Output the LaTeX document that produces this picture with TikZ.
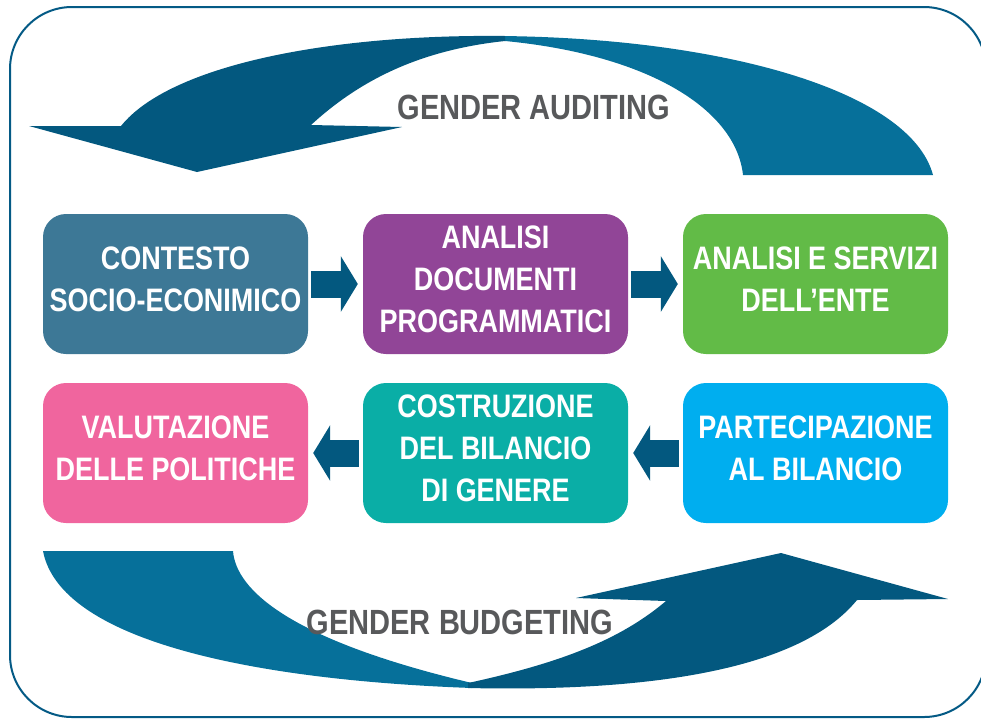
\documentclass[tikz,border=0pt]{standalone}
\usepackage{fontspec}
\usetikzlibrary{arrows.meta}
\newfontfamily\boxfont{Liberation Sans}[FakeStretch=0.83]

\definecolor{darkarrow}{HTML}{03587F}
\definecolor{lightarrow}{HTML}{06709A}
\definecolor{framecol}{HTML}{045A85}
\definecolor{contestocol}{HTML}{3D7896}
\definecolor{analisicol}{HTML}{914597}
\definecolor{servizicol}{HTML}{62BB47}
\definecolor{valutacol}{HTML}{F0659E}
\definecolor{costrucol}{HTML}{0AAEA6}
\definecolor{parteccol}{HTML}{00AEEF}
\definecolor{labelgray}{HTML}{58595B}

\begin{document}
\begin{tikzpicture}[x=1pt, y=-1pt,
  box/.style={rounded corners=23pt, minimum width=265pt, minimum height=140pt,
    inner sep=0pt, text=white, align=center, text depth=9pt,
    font=\boxfont\bfseries\fontsize{32.5}{42}\selectfont},
  flow/.style={draw=darkarrow, line width=27pt, -{Triangle[length=17pt, width=55pt]}},
  cyclelabel/.style={text=labelgray, font=\boxfont\bfseries\fontsize{35}{40}\selectfont}]
  \useasboundingbox (0,0) rectangle (981,718);

  % frame
  \draw[framecol, line width=2pt, rounded corners=62pt] (10,7) rectangle (986,717);

  % gender auditing arrow (tail right, head left)
  \fill[lightarrow] (500,36) .. controls (720,38) and (910,90) .. (933,175)
    -- (743,175) .. controls (736,110) and (650,55) .. (505,41) -- cycle;
  \fill[darkarrow] (505,36) .. controls (330,34) and (170,65) .. (121,126)
    -- (29,126) -- (197,172) -- (402,127) -- (311,125)
    .. controls (360,80) and (420,50) .. (505,41) -- cycle;

  % gender budgeting arrow (tail left, head right)
  \fill[lightarrow] (43,551) -- (233,551)
    .. controls (236,590) and (290,640) .. (472,683)
    -- (472,688) .. controls (250,680) and (60,640) .. (43,551) -- cycle;
  \fill[darkarrow] (468,683) .. controls (560,663) and (620,640) .. (666,601)
    -- (576,598) -- (781,553) -- (948,599) -- (857,600)
    .. controls (800,670) and (650,692) .. (468,688) -- cycle;

  % labels of the cycles
  \node[cyclelabel] (auditing) at (534,107.5) {GENDER AUDITING};
  \node[cyclelabel] (budgeting) at (460,622) {GENDER BUDGETING};

  % boxes
  \node[box, fill=contestocol] (contesto) at (175.5,284) {CONTESTO\\SOCIO-ECONIMICO};
  \node[box, fill=analisicol] (documenti) at (495.5,284) {ANALISI\\DOCUMENTI\\PROGRAMMATICI};
  \node[box, fill=servizicol] (servizi) at (815.5,284) {ANALISI E SERVIZI\\DELL’ENTE};
  \node[box, fill=valutacol] (valutazione) at (175.5,453) {VALUTAZIONE\\DELLE POLITICHE};
  \node[box, fill=costrucol] (costruzione) at (495.5,453) {COSTRUZIONE\\DEL BILANCIO\\DI GENERE};
  \node[box, fill=parteccol] (partecipazione) at (815.5,453) {PARTECIPAZIONE\\AL BILANCIO};

  % arrows between boxes
  \draw[flow] ([xshift=3pt]contesto.east) -- ([xshift=-5pt]documenti.west);
  \draw[flow] ([xshift=3pt]documenti.east) -- ([xshift=-5pt]servizi.west);
  \draw[flow] ([xshift=-4pt]partecipazione.west) -- ([xshift=5pt]costruzione.east);
  \draw[flow] ([xshift=-4pt]costruzione.west) -- ([xshift=5pt]valutazione.east);
\end{tikzpicture}
\end{document}
